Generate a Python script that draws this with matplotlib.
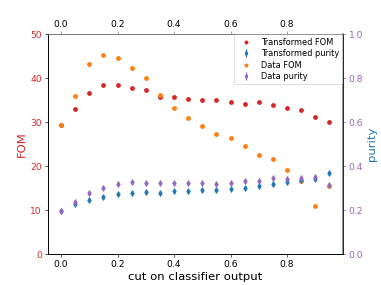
import numpy as np
import matplotlib
matplotlib.use("Agg")
import matplotlib.pyplot as plt

cuts = [0.0, 0.05, 0.1, 0.15, 0.2, 0.25, 0.3, 0.35, 0.4, 0.45,
        0.5, 0.55, 0.6, 0.65, 0.7, 0.75, 0.8, 0.85, 0.9, 0.95]
trans_fom = [29.2, 32.9, 36.4, 38.4, 38.4, 37.7, 37.1, 35.6, 35.5, 35.2,
             34.8, 34.9, 34.4, 34.0, 34.4, 33.8, 33.1, 32.7, 31.1, 30.0]
data_fom = [29.2, 35.7, 43.1, 45.2, 44.4, 42.2, 39.9, 36.1, 33.0, 30.8,
            28.9, 27.1, 26.3, 24.4, 22.4, 21.4, 19.1, 16.5, 10.9, 15.4]
trans_purity = [0.195, 0.224, 0.244, 0.258, 0.271, 0.277, 0.282, 0.277, 0.283, 0.283,
                0.290, 0.291, 0.293, 0.297, 0.308, 0.315, 0.323, 0.335, 0.338, 0.368]
data_purity = [0.195, 0.236, 0.276, 0.300, 0.317, 0.324, 0.321, 0.321, 0.321, 0.320,
               0.321, 0.317, 0.320, 0.332, 0.330, 0.342, 0.340, 0.345, 0.347, 0.310]
purity_err = [0.006] * len(cuts)

c_red = "#d62728"
c_blue = "#1f77b4"
c_orange = "#ff7f0e"
c_purple = "#9467bd"

DPI = 381 / 6.4
fig = plt.figure(figsize=(6.4, 4.8), dpi=DPI)
ax = fig.add_axes([0.125, 0.11, 0.775, 0.77])
ax2 = ax.twinx()
ax3 = ax.twiny()

h1 = ax.scatter(cuts, trans_fom, color=c_red, s=22, label="Transformed FOM", zorder=3)
h3 = ax.scatter(cuts, data_fom, color=c_orange, s=22, label="Data FOM", zorder=3)
h2 = ax2.errorbar(cuts, trans_purity, yerr=purity_err, fmt="d", color=c_blue,
                  markersize=5, elinewidth=1.5, label="Transformed purity")
h4 = ax2.errorbar(cuts, data_purity, yerr=purity_err, fmt="d", color=c_purple,
                  markersize=5, elinewidth=1.5, label="Data purity")

ax.set_ylim(0, 50)
ax2.set_ylim(0, 1.0)
ax3.set_xlim(ax.get_xlim())
ax3.set_xticks([0.0, 0.2, 0.4, 0.6, 0.8])

tfs = 11
lfs = 14
ax.set_xlabel("cut on classifier output", fontsize=lfs)
ax.set_ylabel("FOM", color=c_red, fontsize=lfs)
ax2.set_ylabel("purity", color=c_blue, fontsize=lfs)
ax.tick_params(axis="y", labelcolor=c_red, labelsize=tfs)
ax.tick_params(axis="x", labelsize=tfs)
ax2.tick_params(axis="y", labelcolor=c_purple, color="gray", labelsize=tfs)
ax3.tick_params(axis="x", labelsize=tfs, color="gray")
ax2.spines["right"].set_color("gray")
ax2.spines["right"].set_linewidth(2)
for a in (ax2, ax3):
    a.spines["top"].set_color("gray")

ax2.legend([h1, h2, h3, h4],
           ["Transformed FOM", "Transformed purity", "Data FOM", "Data purity"],
           loc="upper right", fontsize=10, borderaxespad=0.05, labelspacing=0.3,
           markerscale=0.8)

fig.savefig("out.png", dpi=DPI)
